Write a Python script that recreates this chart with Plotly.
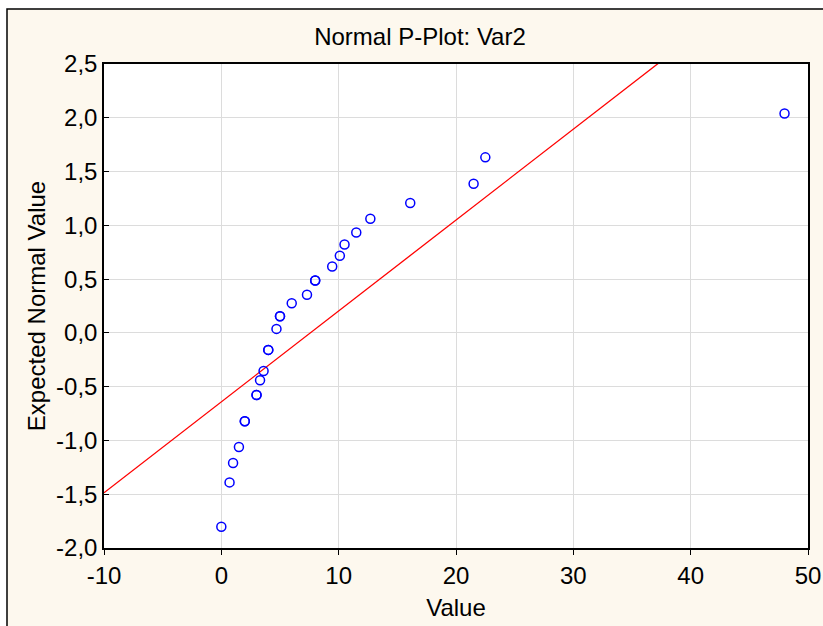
import plotly.graph_objects as go

# Observed values (ties repeated, they plot on the same spot)
values = [0, 0.7, 1.0, 1.5, 2.0, 2.0, 3.0, 3.0, 3.3, 3.6, 4.0, 4.0, 4.7, 5.0, 5.0,
          6.0, 7.3, 8.0, 8.0, 9.45, 10.1, 10.5, 11.5, 12.7, 16.1, 21.5, 22.5, 48.0]
expected = [-1.803, -1.390, -1.210, -1.061, -0.822, -0.822, -0.577, -0.577, -0.440, -0.354,
            -0.158, -0.158, 0.037, 0.155, 0.155, 0.275, 0.354, 0.487, 0.487, 0.617,
            0.717, 0.822, 0.934, 1.061, 1.207, 1.387, 1.632, 2.039]

# Reference normal line: expected = intercept + slope * value
fit_intercept = -0.641
fit_slope = 0.0845
line_x = [-10, 50]
line_y = [fit_intercept + fit_slope * v for v in line_x]

x_ticks = [-10, 0, 10, 20, 30, 40, 50]
x_labels = ["-10", "0", "10", "20", "30", "40", "50"]
y_ticks = [-2.0, -1.5, -1.0, -0.5, 0.0, 0.5, 1.0, 1.5, 2.0, 2.5]
y_labels = ["-2,0", "-1,5", "-1,0", "-0,5", "0,0", "0,5", "1,0", "1,5", "2,0", "2,5"]

W, H = 823, 626
L, R, T, B = 104, 15, 64, 78
pw, ph = W - L - R, H - T - B

fig = go.Figure()
fig.add_trace(go.Scatter(x=line_x, y=line_y, mode="lines",
                         line=dict(color="#FF0000", width=1.3), hoverinfo="skip"))
fig.add_trace(go.Scatter(x=values, y=expected, mode="markers",
                         marker=dict(symbol="circle-open", size=9, color="#0000FF",
                                     line=dict(width=1.5, color="#0000FF"))))

font = "Liberation Sans, Arial, sans-serif"
fig.update_layout(
    width=W, height=H,
    margin=dict(l=L, r=R, t=T, b=B, autoexpand=False),
    paper_bgcolor="white",
    plot_bgcolor="white",
    showlegend=False,
    font=dict(family=font, size=24, color="#000000"),
    title=dict(text="Normal P-Plot: Var2", x=(420 - L) / pw, xref="paper", xanchor="center",
               y=1 - 37 / H, yref="container", yanchor="middle",
               font=dict(family=font, size=24, color="#000000")),
    xaxis=dict(range=[-10, 50], tickvals=x_ticks, ticktext=x_labels, automargin=False,
               showgrid=True, gridcolor="#DCDCDC", gridwidth=1, zeroline=False,
               showline=True, linecolor="#000000", linewidth=1.5, mirror=True,
               ticks="outside", ticklen=5, tickcolor="#000000",
               title=dict(text="Value", standoff=12, font=dict(size=24))),
    yaxis=dict(range=[-2.0, 2.5], tickvals=y_ticks, ticktext=y_labels, automargin=False,
               showgrid=True, gridcolor="#DCDCDC", gridwidth=1, zeroline=False,
               showline=True, linecolor="#000000", linewidth=1.5, mirror=True,
               ticks="inside", ticklen=5, tickcolor="#000000",
               title=dict(text="Expected Normal Value", standoff=4, font=dict(size=24))),
)

# Cream panel with black border, then white plot area on top of it
fig.add_shape(type="rect", xref="paper", yref="paper", layer="below",
              x0=(7 - L) / pw, x1=(W + 5 - L) / pw,
              y0=-(B + 5) / ph, y1=(H - B - 9) / ph,
              fillcolor="#FDF8EE", line=dict(color="#000000", width=1.5))
fig.add_shape(type="rect", xref="paper", yref="paper", layer="below",
              x0=0, x1=1, y0=0, y1=1, fillcolor="white", line=dict(width=0))

fig.write_html("out.html")
